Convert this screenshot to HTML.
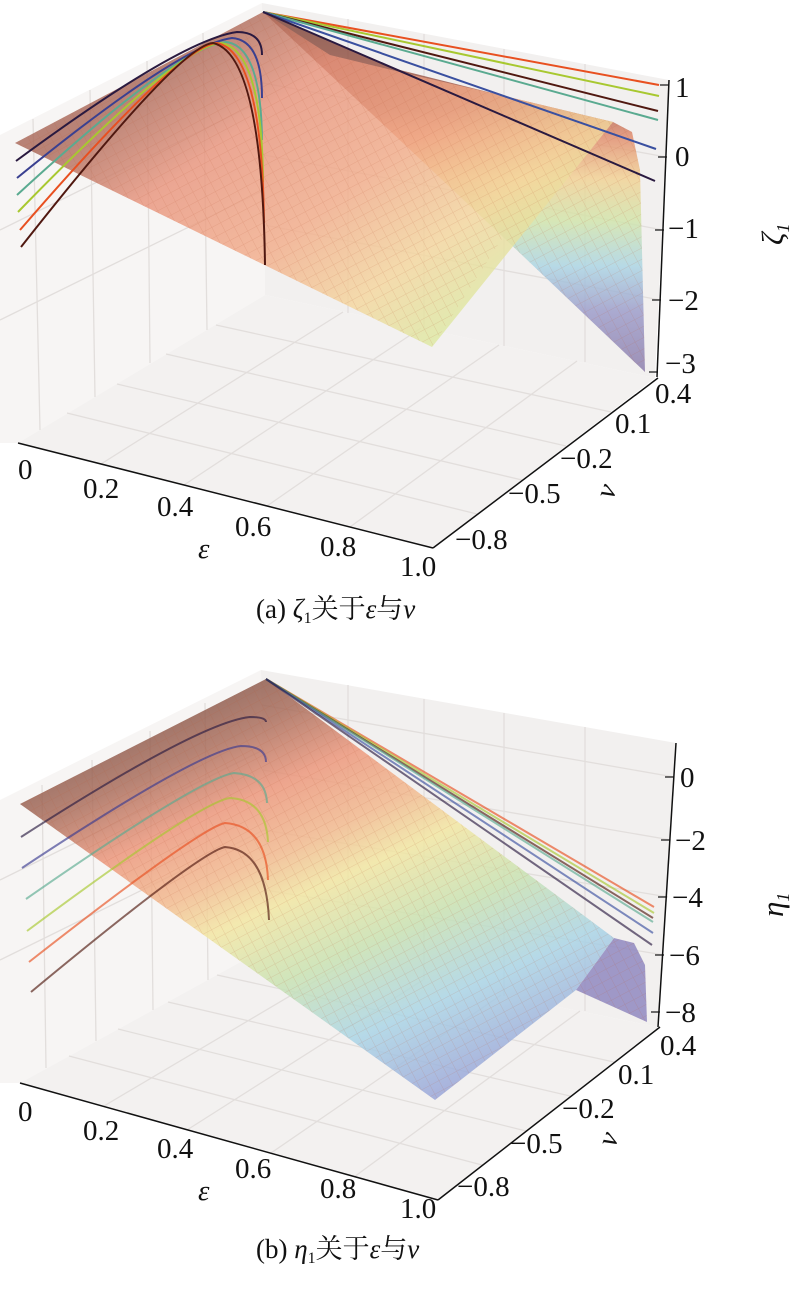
<!DOCTYPE html>
<html><head><meta charset="utf-8"><style>
body{margin:0;background:#fff;}
svg text{font-family:"Liberation Serif","Noto Serif CJK SC",serif;fill:#111;}
</style></head><body>
<svg width="800" height="1285" viewBox="0 0 800 1285" xmlns="http://www.w3.org/2000/svg">
<defs>
<linearGradient id="fa" gradientUnits="userSpaceOnUse" x1="200" y1="40" x2="430" y2="345">
<stop offset="0" stop-color="#a86656"/>
<stop offset="0.25" stop-color="#e8927a"/>
<stop offset="0.55" stop-color="#f2ab88"/>
<stop offset="0.8" stop-color="#f4d69c"/>
<stop offset="1" stop-color="#dde8a0"/>
</linearGradient>
<linearGradient id="ba" gradientUnits="userSpaceOnUse" x1="0" y1="20" x2="0" y2="372">
<stop offset="0" stop-color="#7a4034"/>
<stop offset="0.25" stop-color="#a85a48"/>
<stop offset="0.33" stop-color="#e08868"/>
<stop offset="0.45" stop-color="#f2d090"/>
<stop offset="0.57" stop-color="#d0e4a8"/>
<stop offset="0.7" stop-color="#a8d4e4"/>
<stop offset="0.83" stop-color="#9898c8"/>
<stop offset="1" stop-color="#8878a8"/>
</linearGradient>
<linearGradient id="fb" gradientUnits="userSpaceOnUse" x1="150" y1="700" x2="347" y2="1137">
<stop offset="0" stop-color="#7a4c40"/>
<stop offset="0.14" stop-color="#a86a58"/>
<stop offset="0.27" stop-color="#ec9478"/>
<stop offset="0.4" stop-color="#f2b88c"/>
<stop offset="0.5" stop-color="#f2e6a0"/>
<stop offset="0.65" stop-color="#c8e2b0"/>
<stop offset="0.82" stop-color="#a8d4e6"/>
<stop offset="1" stop-color="#98a4d8"/>
</linearGradient>
<pattern id="mesh" width="10" height="10" patternUnits="userSpaceOnUse" patternTransform="rotate(-28)">
<path d="M0 0H10M0 0V10" stroke="#b85838" stroke-opacity="0.2" stroke-width="1" fill="none"/>
</pattern>
</defs>

<!-- PANEL A -->
<g>
<polygon points="0,135 262,3 265,295 18,443 0,443" fill="#f7f5f4"/>
<polygon points="262,3 669,80 655,378 265,295" fill="#f2f0ef"/>
<polygon points="18,443 265,295 655,378 433,548" fill="#f3f1f0"/>
<g stroke="#e2dedc" stroke-width="1.3" fill="none">
<line x1="33" y1="119" x2="40" y2="430"/><line x1="90" y1="90" x2="95" y2="397"/><line x1="147" y1="61" x2="150" y2="363"/><line x1="203" y1="33" x2="207" y2="330"/>
<line x1="0" y1="230" x2="263" y2="100"/><line x1="0" y1="320" x2="264" y2="190"/>
<line x1="348" y1="19" x2="348" y2="313"/><line x1="424" y1="34" x2="424" y2="329"/><line x1="504" y1="49" x2="504" y2="346"/><line x1="585" y1="64" x2="585" y2="362"/>
<line x1="263" y1="83" x2="666" y2="157"/><line x1="264" y1="155" x2="663" y2="230"/><line x1="264" y1="225" x2="660" y2="300"/>
<line x1="67" y1="413" x2="477" y2="514"/><line x1="117" y1="384" x2="522" y2="480"/><line x1="166" y1="354" x2="566" y2="446"/><line x1="216" y1="325" x2="611" y2="412"/>
<line x1="101" y1="464" x2="343" y2="312"/><line x1="184" y1="485" x2="421" y2="328"/><line x1="267" y1="506" x2="499" y2="345"/><line x1="350" y1="527" x2="577" y2="361"/>
</g>
<polygon points="263,12 400,70 500,95 613,122 632,132 640,170 645,372 503,237 290,37" fill="url(#ba)" opacity="0.8"/>
<polygon points="15,143 263,12 330,55 400,72 500,95 613,122 432,347" fill="url(#fa)" opacity="0.8"/>
<polygon points="15,143 263,12 330,55 400,72 500,95 613,122 632,132 640,170 645,372 503,237 432,347" fill="url(#mesh)"/>
<g fill="none" stroke-width="2">
<path d="M16,161 Q180,40 237,32 Q262,32 262,55" stroke="#2a1a40"/>
<path d="M17,178 Q180,45 232,38 Q262,40 262,98" stroke="#3a4090"/>
<path d="M17,195 Q180,45 226,42 Q261,46 262,140" stroke="#5aaa90"/>
<path d="M18,212 Q180,45 221,43 Q262,50 263,182" stroke="#a8c830"/>
<path d="M20,230 Q180,45 217,43 Q262,52 264,223" stroke="#e85020"/>
<path d="M21,247 Q180,45 213,43 Q262,54 265,265" stroke="#501810"/>
<line x1="263" y1="12" x2="659" y2="85" stroke="#e85020"/>
<line x1="263" y1="12" x2="659" y2="96" stroke="#a8c830"/>
<line x1="263" y1="12" x2="658" y2="111" stroke="#501810"/>
<line x1="263" y1="12" x2="658" y2="120" stroke="#5aaa90"/>
<line x1="263" y1="12" x2="656" y2="149" stroke="#3a50a0"/>
<line x1="263" y1="12" x2="655" y2="181" stroke="#2a1a40"/>
</g>
<g stroke="#111" stroke-width="1.5" fill="none">
<line x1="669" y1="80" x2="657" y2="377"/>
<line x1="18" y1="443" x2="433" y2="548"/>
<line x1="433" y1="548" x2="658" y2="378"/>
</g>
<g stroke="#111" stroke-width="1.2">
<line x1="660" y1="85" x2="669" y2="85"/><line x1="658" y1="157" x2="667" y2="157"/><line x1="655" y1="230" x2="664" y2="230"/><line x1="652" y1="300" x2="661" y2="300"/><line x1="649" y1="372" x2="658" y2="372"/>
</g>
<g font-size="29">
<text x="675" y="97">1</text><text x="675" y="166">0</text><text x="668" y="238">−1</text><text x="668" y="310">−2</text><text x="665" y="373">−3</text>
<text x="655" y="403">0.4</text><text x="615" y="433">0.1</text><text x="560" y="468">−0.2</text><text x="508" y="503">−0.5</text><text x="455" y="549">−0.8</text>
<text x="18" y="479">0</text><text x="83" y="498">0.2</text><text x="157" y="516">0.4</text><text x="235" y="536">0.6</text><text x="320" y="556">0.8</text><text x="400" y="576">1.0</text>
<text x="198" y="558" font-style="italic">ε</text>
<text x="600" y="498" font-style="italic" transform="rotate(-70 608 490)">ν</text>
<text x="762" y="240" font-style="italic" font-size="31" transform="rotate(-90 775 232)">ζ<tspan font-size="18" dy="6">1</tspan></text>
</g>
<text x="256" y="618" font-size="27">(a) <tspan font-style="italic">ζ</tspan><tspan font-size="16" dy="5">1</tspan><tspan dy="-5">关于</tspan><tspan font-style="italic">ε</tspan>与<tspan font-style="italic">ν</tspan></text>
</g>

<!-- PANEL B -->
<g>
<polygon points="0,800 261,670 266,948 20,1083 0,1083" fill="#f7f5f4"/>
<polygon points="261,670 676,743 658,1027 266,948" fill="#f2f0ef"/>
<polygon points="20,1083 266,948 658,1027 438,1200" fill="#f3f1f0"/>
<g stroke="#e2dedc" stroke-width="1.3" fill="none">
<line x1="42" y1="785" x2="46" y2="1068"/><line x1="92" y1="760" x2="96" y2="1041"/><line x1="150" y1="731" x2="153" y2="1010"/><line x1="205" y1="703" x2="208" y2="980"/>
<line x1="0" y1="880" x2="263" y2="750"/><line x1="0" y1="960" x2="264" y2="830"/>
<line x1="348" y1="685" x2="348" y2="964"/><line x1="424" y1="699" x2="424" y2="980"/><line x1="504" y1="713" x2="504" y2="996"/><line x1="585" y1="727" x2="585" y2="1011"/>
<line x1="262" y1="705" x2="674" y2="777"/><line x1="263" y1="770" x2="671" y2="840"/><line x1="264" y1="830" x2="668" y2="897"/><line x1="265" y1="890" x2="664" y2="955"/>
<line x1="69" y1="1056" x2="482" y2="1165"/><line x1="118" y1="1029" x2="526" y2="1131"/><line x1="168" y1="1002" x2="570" y2="1096"/><line x1="217" y1="975" x2="614" y2="1062"/>
<line x1="104" y1="1106" x2="344" y2="964"/><line x1="187" y1="1130" x2="423" y2="980"/><line x1="271" y1="1153" x2="501" y2="995"/><line x1="354" y1="1177" x2="580" y2="1011"/>
</g>
<polygon points="614,938 634,943 645,965 647,1022 576,990" fill="#9088c0" opacity="0.85"/>
<polygon points="20,804 266,679 614,938 576,990 435,1100" fill="url(#fb)" opacity="0.82"/>
<polygon points="20,804 266,679 614,938 634,943 645,965 647,1022 576,990 435,1100" fill="url(#mesh)"/>
<g fill="none" stroke-width="2" stroke-opacity="0.65">
<path d="M21,837 Q200,722 250,717 Q266,717 266,722" stroke="#2a1a40"/>
<path d="M22,868 Q200,750 241,746 Q266,746 266,762" stroke="#3a3a90"/>
<path d="M26,899 Q200,778 234,773 Q266,775 267,803" stroke="#5aaa90"/>
<path d="M27,931 Q200,802 230,798 Q266,800 268,842" stroke="#a8c830"/>
<path d="M29,962 Q200,828 225,823 Q266,826 268,880" stroke="#e85020"/>
<path d="M31,992 Q200,852 225,847 Q266,850 269,920" stroke="#501810"/>
<line x1="266" y1="679" x2="654" y2="907" stroke="#e85020"/>
<line x1="266" y1="679" x2="654" y2="913" stroke="#a8c830"/>
<line x1="266" y1="679" x2="653" y2="918" stroke="#501810"/>
<line x1="266" y1="679" x2="653" y2="922" stroke="#5aaa90"/>
<line x1="266" y1="679" x2="653" y2="933" stroke="#3a50a0"/>
<line x1="266" y1="679" x2="652" y2="945" stroke="#2a1a40"/>
</g>
<g stroke="#111" stroke-width="1.5" fill="none">
<line x1="676" y1="743" x2="658" y2="1027"/>
<line x1="20" y1="1083" x2="438" y2="1200"/>
<line x1="438" y1="1200" x2="660" y2="1027"/>
</g>
<g stroke="#111" stroke-width="1.2">
<line x1="665" y1="777" x2="674" y2="777"/><line x1="661" y1="840" x2="670" y2="840"/><line x1="658" y1="897" x2="667" y2="897"/><line x1="655" y1="955" x2="664" y2="955"/><line x1="651" y1="1012" x2="660" y2="1012"/>
</g>
<g font-size="29">
<text x="680" y="787">0</text><text x="675" y="850">−2</text><text x="672" y="907">−4</text><text x="669" y="965">−6</text><text x="665" y="1022">−8</text>
<text x="660" y="1055">0.4</text><text x="618" y="1084">0.1</text><text x="562" y="1118">−0.2</text><text x="510" y="1153">−0.5</text><text x="457" y="1196">−0.8</text>
<text x="18" y="1121">0</text><text x="83" y="1140">0.2</text><text x="157" y="1158">0.4</text><text x="235" y="1178">0.6</text><text x="320" y="1198">0.8</text><text x="400" y="1218">1.0</text>
<text x="198" y="1200" font-style="italic">ε</text>
<text x="602" y="1146" font-style="italic" transform="rotate(-70 610 1138)">ν</text>
<text x="762" y="912" font-style="italic" font-size="31" transform="rotate(-90 775 904)">η<tspan font-size="18" dy="6">1</tspan></text>
</g>
<text x="256" y="1258" font-size="27">(b) <tspan font-style="italic">η</tspan><tspan font-size="16" dy="5">1</tspan><tspan dy="-5">关于</tspan><tspan font-style="italic">ε</tspan>与<tspan font-style="italic">ν</tspan></text>
</g>
</svg>
</body></html>
